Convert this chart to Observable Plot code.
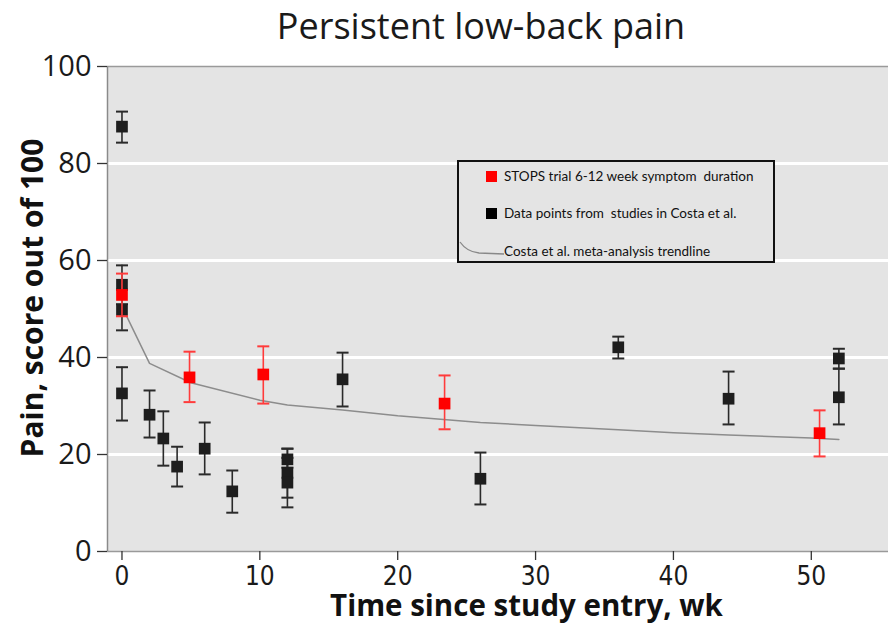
<!DOCTYPE html>
<html>
<head>
<meta charset="utf-8">
<script src="https://cdn.jsdelivr.net/npm/d3@7"></script>
<script src="https://cdn.jsdelivr.net/npm/@observablehq/plot@0.6"></script>
<style>
  html, body { margin: 0; padding: 0; background: #fff; }
  #wrap { position: relative; width: 888px; height: 624px; overflow: hidden; }
  #chart { position: absolute; left: 0; top: 0; }
  .title { position: absolute; left: 0; width: 962px; top: 8px; text-align: center; line-height: 36px;
    font-family: "Open Sans", sans-serif; font-size: 36px; color: #1a1a1a; white-space: nowrap; }
  .ylab { position: absolute; left: 32px; top: 298px; transform: translate(-50%, -50%) rotate(-90deg);
    font-family: "Open Sans", sans-serif; font-weight: bold; font-size: 30px; line-height: 34px; color: #111; white-space: nowrap; }
  .xlab { position: absolute; left: 0; width: 1053px; top: 590px; text-align: center;
    font-family: "Open Sans", sans-serif; font-weight: bold; font-size: 29.5px; color: #111; white-space: nowrap; line-height: 29px; }
  .legend { position: absolute; left: 457px; top: 160px; width: 314px; height: 99px;
    border: 2px solid #111; background: #e4e4e4; font-family: Lato, sans-serif; font-size: 13.5px; color: #111; }
  .legend .row { position: absolute; left: 45px; white-space: nowrap; }
  .legend .sw { position: absolute; width: 11px; height: 11px; left: 27px; }
  .legend svg { position: absolute; left: 0; top: 0; }
</style>
</head>
<body>
<div id="wrap">
  <div id="chart"></div>
  <div class="title">Persistent low-back pain</div>
  <div class="ylab">Pain, score out of 100</div>
  <div class="xlab">Time since study entry, wk</div>
  <div class="legend">
    <div class="sw" style="top:9px;background:#ff0000"></div>
    <div class="row" style="top:6px">STOPS trial 6-12 week symptom&nbsp; duration</div>
    <div class="sw" style="top:46px;background:#000"></div>
    <div class="row" style="top:43px">Data points from&nbsp; studies in Costa et al.</div>
    <svg width="60" height="99"><path d="M1,80 Q8,90 20,91 L45,92" fill="none" stroke="#888" stroke-width="1.3"/></svg>
    <div class="row" style="top:81px">Costa et al. meta-analysis trendline</div>
  </div>
</div>
<script>
// Data points from studies in Costa et al.
const blackX  = [0,    0,  0,    0,  2,    3,    4,    6,    8,    12,   12,   12,   16,   26,   36,   44,   52,   52];
const blackY  = [87.6, 55, 49.8, 32.6, 28.2, 23.3, 17.5, 21.2, 12.4, 19.0, 16.2, 14.2, 35.5, 15.0, 42.1, 31.5, 39.8, 31.8];
const blackLo = [84.3, 51, 45.6, 27.0, 23.5, 17.7, 13.4, 15.9, 8.0,  17.3, 11.1, 9.1,  29.9, 9.7,  39.8, 26.2, 37.7, 26.2];
const blackHi = [90.7, 59, 54.0, 38.0, 33.2, 28.9, 21.6, 26.6, 16.7, 21.2, 21.2, 19.3, 41.0, 20.4, 44.3, 37.1, 41.8, 37.7];

// STOPS trial 6-12 week symptom duration
const redX  = [0,    4.9,  10.25, 23.4, 50.6];
const redY  = [52.9, 35.9, 36.5,  30.5, 24.4];
const redLo = [48.5, 30.8, 30.5,  25.2, 19.6];
const redHi = [57.3, 41.2, 42.3,  36.3, 29.1];

// Costa et al. meta-analysis trendline
const trendX = [0,    2,    5,    10,   12,   16,   20,   26,   30,   36,   40,   44,   50,   52];
const trendY = [50.5, 38.8, 34.8, 31.2, 30.2, 29.2, 28.0, 26.6, 26.0, 25.1, 24.5, 24.0, 23.4, 23.1];

const xTicks = [0, 10, 20, 30, 40, 50];
const yTicks = [0, 20, 40, 60, 80, 100];
const gridY = [20, 40, 60, 80];

const black = blackX.map((x, i) => ({x, y: blackY[i], lo: blackLo[i], hi: blackHi[i]}));
const red = redX.map((x, i) => ({x, y: redY[i], lo: redLo[i], hi: redHi[i]}));
const trend = trendX.map((x, i) => ({x, y: trendY[i]}));

const cap = {draw(ctx, size) { const w = Math.sqrt(size / Math.PI); ctx.moveTo(-w, 0); ctx.lineTo(w, 0); }};

const xMin = -1.05, xMax = 55.6;

const errMarks = (data, color, fill) => [
  Plot.ruleX(data, {x: "x", y1: "lo", y2: "hi", stroke: color, strokeWidth: 1.6}),
  Plot.dot(data, {x: "x", y: "lo", symbol: cap, r: 6, stroke: color, strokeWidth: 2}),
  Plot.dot(data, {x: "x", y: "hi", symbol: cap, r: 6, stroke: color, strokeWidth: 2}),
  Plot.dot(data, {x: "x", y: "y", symbol: "square", r: 6.6, fill, stroke: "none"})
];

const plot = Plot.plot({
  width: 888,
  height: 624,
  marginLeft: 107,
  marginRight: 0,
  marginTop: 66,
  marginBottom: 73,
  style: {background: "transparent", overflow: "visible"},
  x: {domain: [xMin, xMax]},
  y: {domain: [0, 100]},
  marks: [
    Plot.frame({fill: "#e4e4e4", stroke: "none"}),
    Plot.ruleY(gridY, {stroke: "white", strokeWidth: 3}),
    Plot.ruleY([100], {stroke: "#9a9a9a", strokeWidth: 1.5}),
    Plot.ruleY([0], {stroke: "#9a9a9a", strokeWidth: 1.5}),
    Plot.ruleX([xMin], {stroke: "#8a8a8a", strokeWidth: 1.5}),
    Plot.axisY({ticks: yTicks, tickSize: 10, tickPadding: 6, fontSize: 29, label: null,
      stroke: "#333", strokeWidth: 1.3, fill: "#1a1a1a", fontFamily: "Open Sans"}),
    Plot.axisX({ticks: xTicks, tickSize: 9, tickPadding: 6, fontSize: 26, label: null,
      stroke: "#333", strokeWidth: 1.3, fill: "#1a1a1a", fontFamily: "DejaVu Sans Condensed, DejaVu Sans, sans-serif"}),
    Plot.line(trend, {x: "x", y: "y", stroke: "#8c8c8c", strokeWidth: 1.5}),
    ...errMarks(black, "#2a2a2a", "#1e1e1e"),
    ...errMarks(red, "#ff3b3b", "#ff0000")
  ]
});
document.getElementById("chart").appendChild(plot);
</script>
</body>
</html>
